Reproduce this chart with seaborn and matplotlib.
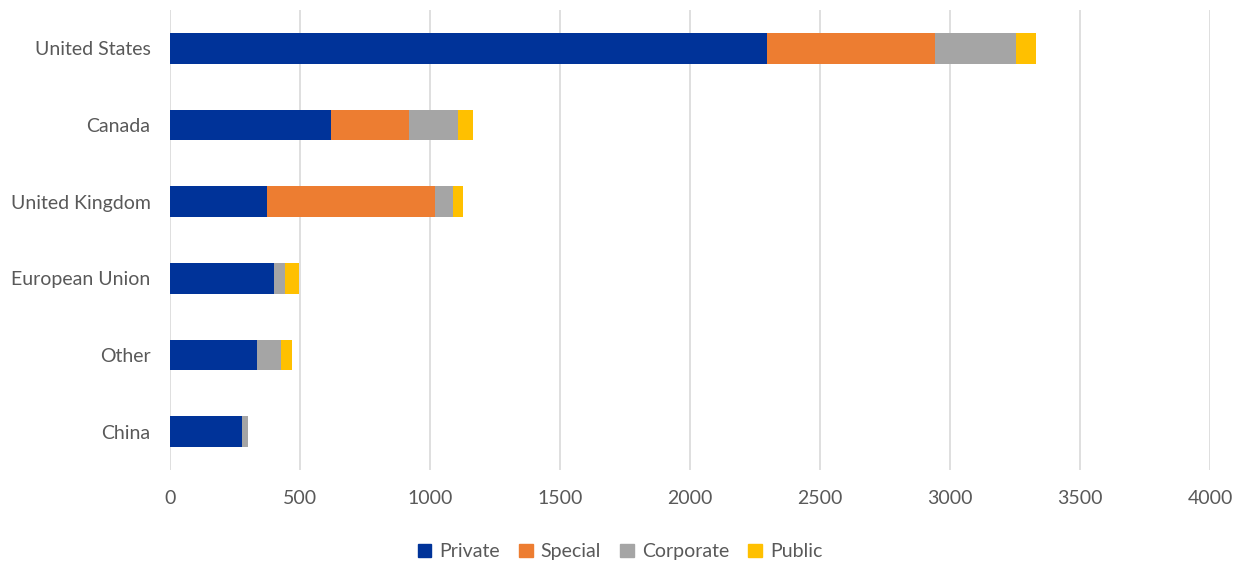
import numpy as np
import pandas as pd
import matplotlib
matplotlib.use("Agg")
import matplotlib.pyplot as plt
import matplotlib.patches as mpatches
import seaborn as sns

# data
countries = ["United States", "Canada", "United Kingdom", "European Union", "Other", "China"]
private   = [2295, 619, 373, 400, 335, 278]
special   = [645, 300, 646, 0, 0, 0]
corporate = [315, 188, 69, 42, 92, 22]
public    = [77, 59, 40, 53, 42, 0]

SERIES = ["Private", "Special", "Corporate", "Public"]
COLORS = ["#003399", "#ED7D31", "#A5A5A5", "#FFC000"]
TEXT_C = "#595959"

sns.set_theme(style="white")
plt.rcParams["font.family"] = ["Lato", "DejaVu Sans"]

df = pd.DataFrame({"country": countries, "Private": private, "Special": special,
                   "Corporate": corporate, "Public": public})
cum = df[SERIES].cumsum(axis=1)

fig = plt.figure(figsize=(12.4, 5.61), dpi=100)
ax = fig.add_axes([0.137, 0.162, 0.839, 0.82])

# stacked bars: draw the running totals, widest first
for name, col in reversed(list(zip(SERIES, COLORS))):
    sns.barplot(x=cum[name], y=df["country"], color=col, orient="h",
                width=0.4, ax=ax, saturation=1, linewidth=0)

ax.set_xlim(0, 4000)
ax.set_xticks(np.arange(0, 4001, 500))
ax.grid(axis="x", color="#D9D9D9", linewidth=1.2)
ax.set_axisbelow(True)
for s in ax.spines.values():
    s.set_visible(False)
ax.set_xlabel("")
ax.set_ylabel("")
ax.tick_params(axis="both", length=0, labelsize=14, labelcolor=TEXT_C)
ax.tick_params(axis="x", pad=14)
ax.tick_params(axis="y", pad=14)

handles = [mpatches.Patch(color=c, label=n) for n, c in zip(SERIES, COLORS)]
fig.legend(handles=handles, loc="lower center", bbox_to_anchor=(0.5, -0.03), ncol=4,
           frameon=False, fontsize=14, labelcolor=TEXT_C, handlelength=0.7,
           handleheight=0.7, handletextpad=0.4, columnspacing=1.0)

fig.savefig("out.png", dpi=100)
